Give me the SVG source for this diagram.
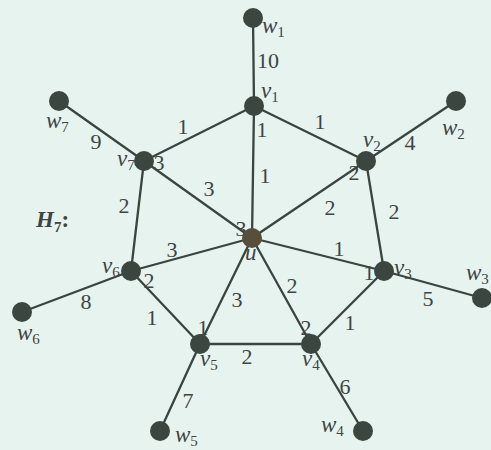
<svg xmlns="http://www.w3.org/2000/svg" width="491" height="450" viewBox="0 0 491 450">
<style>
.e{stroke:#3a4440;stroke-width:2.3;fill:none;stroke-linecap:round}
.n{fill:#3b4641}
.u{fill:#574f3b}
.w{font-family:"Liberation Serif","DejaVu Serif",serif;font-size:22px;fill:#3e4542;text-anchor:middle}
.v{font-family:"Liberation Serif","DejaVu Serif",serif;font-style:italic;font-size:23px;fill:#3e4542}
.s{font-size:15px;font-style:normal}
</style>
<rect width="491" height="450" fill="#e7f3ef"/>
<g id="connectors">
<line class="e" x1="253" y1="18" x2="254" y2="106"/>
<line class="e" x1="254" y1="106" x2="366" y2="161"/>
<line class="e" x1="254" y1="106" x2="144" y2="161"/>
<line class="e" x1="254" y1="106" x2="252" y2="238"/>
<line class="e" x1="366" y1="161" x2="456" y2="101"/>
<line class="e" x1="366" y1="161" x2="252" y2="238"/>
<line class="e" x1="366" y1="161" x2="384" y2="271"/>
<line class="e" x1="144" y1="161" x2="59" y2="101"/>
<line class="e" x1="144" y1="161" x2="252" y2="238"/>
<line class="e" x1="144" y1="161" x2="131" y2="271"/>
<line class="e" x1="131" y1="271" x2="22" y2="312"/>
<line class="e" x1="131" y1="271" x2="252" y2="238"/>
<line class="e" x1="131" y1="271" x2="200" y2="344"/>
<line class="e" x1="200" y1="344" x2="160" y2="431"/>
<line class="e" x1="200" y1="344" x2="252" y2="238"/>
<line class="e" x1="200" y1="344" x2="311" y2="344"/>
<line class="e" x1="311" y1="344" x2="363" y2="431"/>
<line class="e" x1="311" y1="344" x2="252" y2="238"/>
<line class="e" x1="311" y1="344" x2="384" y2="271"/>
<line class="e" x1="384" y1="271" x2="482" y2="298"/>
<line class="e" x1="384" y1="271" x2="252" y2="238"/>
</g>
<g id="edge-labels">
<text class="w" x="268" y="68">10</text>
<text class="w" x="262" y="137">1</text>
<text class="w" x="265" y="183">1</text>
<text class="w" x="320" y="129">1</text>
<text class="w" x="183" y="134">1</text>
<text class="w" x="96" y="149">9</text>
<text class="w" x="159" y="170">3</text>
<text class="w" x="209" y="196">3</text>
<text class="w" x="124" y="213">2</text>
<text class="w" x="410" y="150">4</text>
<text class="w" x="354" y="180">2</text>
<text class="w" x="330" y="215">2</text>
<text class="w" x="394" y="219">2</text>
<text class="w" x="241" y="236">3</text>
<text class="w" x="339" y="256">1</text>
<text class="w" x="369" y="280">1</text>
<text class="w" x="428" y="306">5</text>
<text class="w" x="292" y="293">2</text>
<text class="w" x="350" y="330">1</text>
<text class="w" x="306" y="335">2</text>
<text class="w" x="345" y="394">6</text>
<text class="w" x="247" y="364">2</text>
<text class="w" x="172" y="257">3</text>
<text class="w" x="149" y="288">2</text>
<text class="w" x="86" y="309">8</text>
<text class="w" x="152" y="325">1</text>
<text class="w" x="237" y="307">3</text>
<text class="w" x="203" y="335">1</text>
<text class="w" x="188" y="408">7</text>
</g>
<g id="node-labels">
<text class="v" x="262" y="33">w<tspan class="s" dy="4">1</tspan></text>
<text class="v" x="261" y="98">v<tspan class="s" dy="4">1</tspan></text>
<text class="v" x="46" y="128">w<tspan class="s" dy="4">7</tspan></text>
<text class="v" x="117" y="166">v<tspan class="s" dy="4">7</tspan></text>
<text class="v" x="442" y="135">w<tspan class="s" dy="4">2</tspan></text>
<text class="v" x="363" y="147">v<tspan class="s" dy="4">2</tspan></text>
<text class="v" x="394" y="275">v<tspan class="s" dy="4">3</tspan></text>
<text class="v" x="466" y="280">w<tspan class="s" dy="4">3</tspan></text>
<text class="v" x="302" y="366">v<tspan class="s" dy="4">4</tspan></text>
<text class="v" x="321" y="432">w<tspan class="s" dy="4">4</tspan></text>
<text class="v" x="102" y="273">v<tspan class="s" dy="4">6</tspan></text>
<text class="v" x="17" y="340">w<tspan class="s" dy="4">6</tspan></text>
<text class="v" x="200" y="366">v<tspan class="s" dy="4">5</tspan></text>
<text class="v" x="175" y="442">w<tspan class="s" dy="4">5</tspan></text>
<text class="v" x="245" y="260">u</text>
<text class="v" x="36" y="227" font-weight="bold" font-size="20">H<tspan class="s" dy="5">7</tspan><tspan dy="-5" font-style="normal">:</tspan></text>
</g>
<g id="w1"><circle class="n" cx="253" cy="18" r="10"/></g>
<g id="v1"><circle class="n" cx="254" cy="106" r="10"/></g>
<g id="w2"><circle class="n" cx="456" cy="101" r="10"/></g>
<g id="v2"><circle class="n" cx="366" cy="161" r="10"/></g>
<g id="w7"><circle class="n" cx="59" cy="101" r="10"/></g>
<g id="v7"><circle class="n" cx="144" cy="161" r="10"/></g>
<g id="u"><circle class="u" cx="252" cy="238" r="10"/></g>
<g id="v3"><circle class="n" cx="384" cy="271" r="10"/></g>
<g id="w3"><circle class="n" cx="482" cy="298" r="10"/></g>
<g id="v6"><circle class="n" cx="131" cy="271" r="10"/></g>
<g id="w6"><circle class="n" cx="22" cy="312" r="10"/></g>
<g id="v5"><circle class="n" cx="200" cy="344" r="10"/></g>
<g id="w5"><circle class="n" cx="160" cy="431" r="10"/></g>
<g id="v4"><circle class="n" cx="311" cy="344" r="10"/></g>
<g id="w4"><circle class="n" cx="363" cy="431" r="10"/></g>
</svg>
